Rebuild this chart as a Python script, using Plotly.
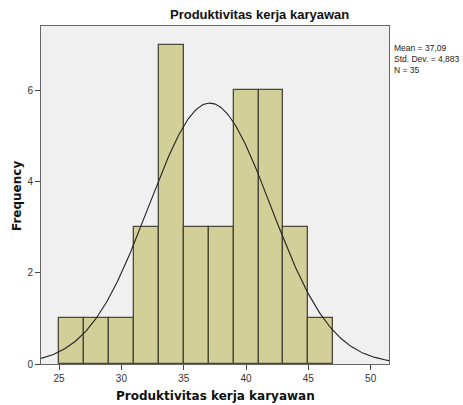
import numpy as np
import plotly.graph_objects as go

bin_left = [25, 27, 29, 31, 33, 35, 37, 39, 41, 43, 45]
bin_width = 2
counts = [1, 1, 1, 3, 7, 3, 3, 6, 6, 3, 1]
mean_val = 37.09
std_val = 4.883
n_val = 35
x_ticks = [25, 30, 35, 40, 45, 50]
y_ticks = [0, 2, 4, 6]

x_range = [23.55, 51.47]
y_range = [0, 7.41]

centers = [b + bin_width / 2 for b in bin_left]
xs = np.linspace(x_range[0], x_range[1], 300)
ys = n_val * bin_width / (std_val * np.sqrt(2 * np.pi)) * np.exp(-0.5 * ((xs - mean_val) / std_val) ** 2)

W, H = 463, 405
L, R, T, B = 41, 74, 26, 41
pw, ph = W - L - R, H - T - B

def px_x(x):
    return (x - L) / pw

def px_y(y):
    return (H - B - y) / ph

fig = go.Figure()
fig.add_trace(go.Bar(x=centers, y=counts, width=[bin_width] * len(counts),
                     marker=dict(color="#D3CF99", line=dict(color="#4A4838", width=1.3)),
                     hoverinfo="skip"))
fig.add_trace(go.Scatter(x=xs, y=ys, mode="lines", line=dict(color="#222222", width=1.1),
                         hoverinfo="skip"))

stats_text = ("Mean = " + f"{mean_val:.2f}".replace(".", ",") + "<br>"
              + "Std. Dev. = " + f"{std_val:.3f}".replace(".", ",") + "<br>"
              + f"N = {n_val}")

fig.update_layout(
    width=W, height=H,
    margin=dict(l=L, r=R, t=T, b=B),
    paper_bgcolor="white", plot_bgcolor="#F0F0F0",
    showlegend=False, bargap=0,
    font=dict(family="Liberation Sans, Arial", color="#333333", size=10),
    xaxis=dict(range=x_range, tickvals=x_ticks, ticks="outside", ticklen=5, tickcolor="#444",
               showgrid=False, zeroline=False, showline=True, linecolor="#666", mirror=True,
               tickfont=dict(size=10, color="#333")),
    yaxis=dict(range=y_range, tickvals=y_ticks, ticks="outside", ticklen=5, tickcolor="#444",
               showgrid=False, zeroline=False, showline=True, linecolor="#666", mirror=True,
               tickfont=dict(size=10, color="#333")),
    annotations=[
        dict(text="<b>Produktivitas kerja karyawan</b>", x=px_x(259), y=px_y(14),
             xref="paper", yref="paper", xanchor="center", yanchor="middle",
             showarrow=False, font=dict(size=13, color="#111", family="Liberation Sans, Arial")),
        dict(text="<b>Produktivitas kerja karyawan</b>", x=px_x(215), y=px_y(396),
             xref="paper", yref="paper", xanchor="center", yanchor="middle", showarrow=False,
             font=dict(size=12, color="#111", family="DejaVu Sans")),
        dict(text="<b>Frequency</b>", x=px_x(17), y=px_y(196), xref="paper", yref="paper",
             textangle=-90, xanchor="center", yanchor="middle", showarrow=False,
             font=dict(size=12, color="#111", family="DejaVu Sans")),
        dict(text=stats_text, x=px_x(392), y=px_y(41), xref="paper", yref="paper",
             xanchor="left", yanchor="top", align="left", showarrow=False,
             font=dict(size=8.5, color="#222", family="Liberation Sans, Arial")),
    ],
)
fig.write_html("out.html", config={"displayModeBar": False},
               post_script="document.body.style.margin='0';document.body.style.padding='0';")
